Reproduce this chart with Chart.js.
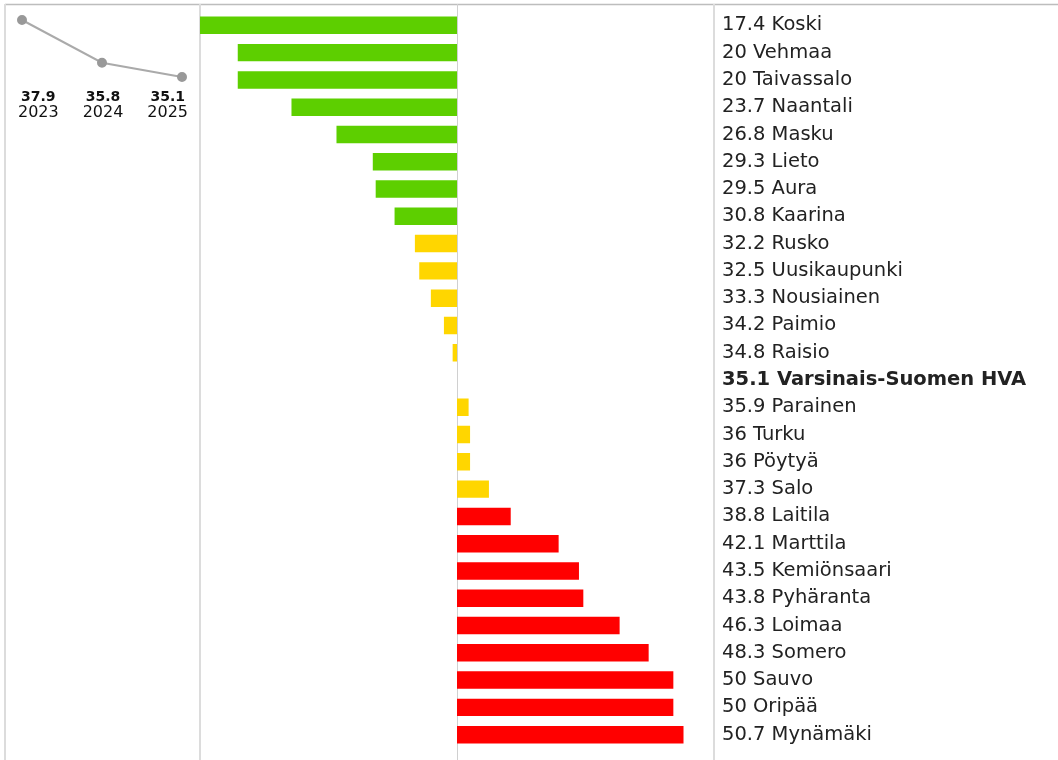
<!DOCTYPE html>
<html>
<head>
<meta charset="utf-8">
<script src="https://cdn.jsdelivr.net/npm/chart.js@4"></script>
<style>
  body { margin: 0; background: #fff; }
  #wrap { position: relative; width: 1058px; height: 760px; }
  #barBox { position: absolute; left: 0; top: 0; width: 1058px; height: 760px; }
  #trendBox { position: absolute; left: 0; top: 0; width: 200px; height: 130px; }
</style>
</head>
<body>
<div id="wrap">
  <div id="barBox"><canvas id="bars"></canvas></div>
  <div id="trendBox"><canvas id="trend"></canvas></div>
</div>
<script>
// Data
const municipalities = ['Koski', 'Vehmaa', 'Taivassalo', 'Naantali', 'Masku', 'Lieto', 'Aura', 'Kaarina',
  'Rusko', 'Uusikaupunki', 'Nousiainen', 'Paimio', 'Raisio', 'Varsinais-Suomen HVA', 'Parainen', 'Turku',
  'Pöytyä', 'Salo', 'Laitila', 'Marttila', 'Kemiönsaari', 'Pyhäranta', 'Loimaa', 'Somero', 'Sauvo',
  'Oripää', 'Mynämäki'];
const values = [17.4, 20, 20, 23.7, 26.8, 29.3, 29.5, 30.8, 32.2, 32.5, 33.3, 34.2, 34.8, 35.1, 35.9, 36,
  36, 37.3, 38.8, 42.1, 43.5, 43.8, 46.3, 48.3, 50, 50, 50.7];
const regionName = 'Varsinais-Suomen HVA';
const trendYears = ['2023', '2024', '2025'];
const trendValues = [37.9, 35.8, 35.1];

const refValue = values[municipalities.indexOf(regionName)];
const spread = Math.max(...values.map(v => Math.abs(v - refValue)));

function barColor(v) {
  if (v < refValue * 0.9) return '#5dcf00';
  if (v > refValue * 1.1) return '#ff0000';
  return '#ffd600';
}

// Frame and vertical guide lines
const framePlugin = {
  id: 'frame',
  beforeDraw(chart) {
    const ctx = chart.ctx;
    const x = chart.scales.x;
    ctx.save();
    ctx.strokeStyle = '#bdbdbd';
    ctx.lineWidth = 1.5;
    ctx.beginPath();
    ctx.moveTo(5, 4.5);
    ctx.lineTo(chart.width, 4.5);
    ctx.stroke();
    ctx.strokeStyle = '#dcdcdc';
    ctx.lineWidth = 2;
    [5, x.getPixelForValue(x.min), x.getPixelForValue(x.max)].forEach(px => {
      ctx.beginPath();
      ctx.moveTo(px, 4);
      ctx.lineTo(px, chart.height);
      ctx.stroke();
    });
    ctx.strokeStyle = '#d0d0d0';
    ctx.lineWidth = 1;
    const mid = Math.round(x.getPixelForValue(refValue)) + 0.5;
    ctx.beginPath();
    ctx.moveTo(mid, 4);
    ctx.lineTo(mid, chart.height);
    ctx.stroke();
    ctx.restore();
  }
};

new Chart(document.getElementById('bars'), {
  type: 'bar',
  data: {
    labels: municipalities,
    datasets: [{
      data: values,
      base: refValue,
      backgroundColor: values.map(barColor),
      borderWidth: 0,
      barPercentage: 0.8,
      categoryPercentage: 0.8
    }]
  },
  options: {
    indexAxis: 'y',
    responsive: true,
    maintainAspectRatio: false,
    animation: false,
    layout: { padding: { left: 200, top: 3, bottom: 0, right: 0 } },
    plugins: { legend: { display: false }, tooltip: { enabled: false } },
    scales: {
      x: {
        display: false,
        min: refValue - spread,
        max: refValue + spread
      },
      y: {
        position: 'right',
        grid: { display: false },
        border: { display: false },
        afterFit(scale) { scale.width = 344; },
        ticks: {
          crossAlign: 'near',
          padding: 0,
          color: '#222',
          font: ctx => ({
            family: 'DejaVu Sans',
            size: 19.5,
            weight: municipalities[ctx.index] === regionName ? 'bold' : 'normal'
          }),
          callback: (v, i) => values[i] + ' ' + municipalities[i]
        }
      }
    }
  },
  plugins: [framePlugin]
});

// Value and year labels, in three equal columns under the line
const trendLabels = {
  id: 'trendLabels',
  afterDraw(chart) {
    const ctx = chart.ctx;
    const colW = (chart.width - 6) / trendYears.length;
    ctx.save();
    ctx.fillStyle = '#111';
    ctx.textAlign = 'center';
    ctx.textBaseline = 'middle';
    trendYears.forEach((yr, i) => {
      const cx = 6 + colW * (i + 0.5);
      ctx.font = 'bold 14px "DejaVu Sans"';
      ctx.fillText(String(trendValues[i]), cx, 97);
      ctx.font = '16px "DejaVu Sans"';
      ctx.fillText(yr, cx, 113);
    });
    ctx.restore();
  }
};

new Chart(document.getElementById('trend'), {
  type: 'line',
  data: {
    labels: trendYears,
    datasets: [{
      data: trendValues,
      borderColor: '#aaaaaa',
      borderWidth: 2,
      pointBackgroundColor: '#999999',
      pointBorderColor: '#999999',
      pointRadius: 4,
      tension: 0,
      clip: false
    }]
  },
  options: {
    responsive: true,
    maintainAspectRatio: false,
    animation: false,
    layout: { padding: { left: 22, right: 18, top: 20, bottom: 53 } },
    plugins: { legend: { display: false }, tooltip: { enabled: false } },
    scales: {
      x: { display: false, offset: false },
      y: {
        display: false,
        min: Math.min(...trendValues),
        max: Math.max(...trendValues)
      }
    }
  },
  plugins: [trendLabels]
});
</script>
</body>
</html>
